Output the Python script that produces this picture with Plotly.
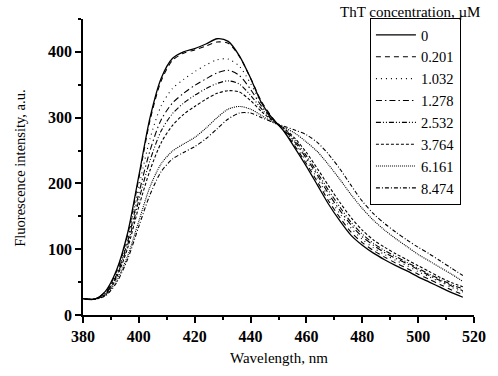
import plotly.graph_objects as go

wavelength = list(range(380, 517, 4))

conc_labels = ["0", "0.201", "1.032", "1.278", "2.532", "3.764", "6.161", "8.474"]

i_0 = [25, 24, 36, 68, 125, 212, 300, 360, 390, 400, 405, 412, 420, 416, 394, 360, 322, 298,
       279, 253, 226, 197, 168, 143, 121, 106, 94, 84, 75, 67, 58, 50, 42, 34, 27]
i_0201 = [25, 24, 35, 66, 122, 208, 296, 356, 387, 398, 403, 409, 415, 413, 393, 360, 324, 299,
          280, 256, 230, 202, 173, 148, 126, 110, 98, 88, 79, 71, 62, 54, 46, 38, 31]
i_1032 = [25, 24, 34, 63, 116, 195, 268, 318, 344, 358, 370, 380, 388, 389, 378, 352, 321, 298,
          281, 259, 234, 207, 179, 154, 132, 115, 102, 92, 83, 75, 66, 58, 50, 42, 35]
i_1278 = [25, 24, 33, 61, 112, 185, 250, 297, 322, 337, 349, 359, 368, 372, 364, 343, 317, 297,
          282, 262, 238, 212, 184, 159, 137, 119, 106, 95, 86, 78, 69, 60, 52, 44, 37]
i_2532 = [25, 24, 32, 59, 107, 175, 235, 280, 306, 322, 334, 344, 352, 356, 351, 334, 313, 296,
          283, 265, 242, 216, 189, 164, 141, 123, 109, 98, 89, 80, 71, 62, 54, 46, 40]
i_3764 = [25, 24, 31, 57, 102, 165, 220, 262, 288, 305, 317, 328, 337, 341, 339, 326, 309, 295,
          284, 268, 247, 222, 196, 171, 148, 129, 114, 103, 93, 84, 75, 66, 57, 49, 43]
i_6161 = [25, 24, 30, 52, 90, 143, 195, 230, 249, 260, 270, 284, 300, 313, 317, 313, 303, 293,
          285, 276, 263, 248, 228, 206, 183, 162, 144, 129, 116, 104, 92, 82, 72, 62, 51]
i_8474 = [25, 24, 29, 49, 85, 135, 183, 218, 237, 247, 256, 268, 283, 298, 307, 307, 300, 293,
          287, 281, 274, 262, 244, 222, 197, 173, 154, 139, 126, 114, 103, 93, 82, 71, 60]

series = [i_0, i_0201, i_1032, i_1278, i_2532, i_3764, i_6161, i_8474]
dashes = ["solid", "5px,4px", "1px,4px", "6px,3px,1.5px,3px", "5px,2px,1px,2px,1px,2px",
          "3px,2px", "1px,1px", "4px,2px,1px,2px"]
widths = [1.3, 1.1, 1.1, 1.1, 1.1, 1.1, 1.1, 1.1]

x_ticks = [380, 400, 420, 440, 460, 480, 500, 520]
y_ticks = [0, 100, 200, 300, 400]

fig = go.Figure()
for lab, ys, d, w in zip(conc_labels, series, dashes, widths):
    fig.add_trace(go.Scatter(x=wavelength, y=ys, mode="lines", name=lab,
                             line=dict(color="black", dash=d, width=w, shape="spline", smoothing=0.8)))

font_family = "Liberation Serif, serif"

axis_common = dict(showline=True, linecolor="black", linewidth=1.5, ticks="outside",
                   ticklen=6, tickwidth=1.5, tickcolor="black", showgrid=False, zeroline=False,
                   mirror=False,
                   tickfont=dict(family=font_family, size=16, color="black", weight="bold"))

W, H = 498, 376
L, R, T, B = 83, 13, 19, 61
plot_w = W - L - R
plot_h = H - T - B


def px_x(page_x):
    return (page_x - L) / plot_w


def px_y(page_y):
    return (H - B - page_y) / plot_h


fig.update_layout(
    width=W, height=H,
    margin=dict(l=L, r=R, t=T, b=B),
    paper_bgcolor="white", plot_bgcolor="white",
    font=dict(family=font_family, color="black", size=14),
    xaxis=dict(range=[380, 520], tickvals=x_ticks,
               minor=dict(dtick=10, tick0=380, ticks="outside", ticklen=3, tickwidth=1.5, tickcolor="black"),
               **axis_common),
    yaxis=dict(range=[0, 450], tickvals=y_ticks,
               minor=dict(dtick=50, tick0=0, ticks="outside", ticklen=3, tickwidth=1.5, tickcolor="black"),
               **axis_common),
    legend=dict(x=px_x(378), y=px_y(18), xanchor="left", yanchor="top",
                bordercolor="black", borderwidth=1, bgcolor="white",
                font=dict(family=font_family, size=14.5, color="black"),
                tracegroupgap=0, itemwidth=40),
    showlegend=True,
    annotations=[
        dict(text="ThT concentration, \u00b5M", x=px_x(419.5), y=px_y(12), xref="paper", yref="paper",
             xanchor="center", yanchor="middle",
             showarrow=False, font=dict(family=font_family, size=15, color="black")),
        dict(text="Wavelength, nm", x=px_x(285), y=px_y(358), xref="paper", yref="paper",
             xanchor="center", yanchor="middle", showarrow=False,
             font=dict(family=font_family, size=15, color="black")),
        dict(text="Fluorescence intensity, a.u.", x=px_x(18), y=px_y(168), xref="paper", yref="paper",
             textangle=-90, xanchor="center", yanchor="middle", showarrow=False,
             font=dict(family=font_family, size=14.5, color="black")),
    ],
)

fig.write_html("out.html", config={"displayModeBar": False},
               post_script="document.body.style.margin='0';")
